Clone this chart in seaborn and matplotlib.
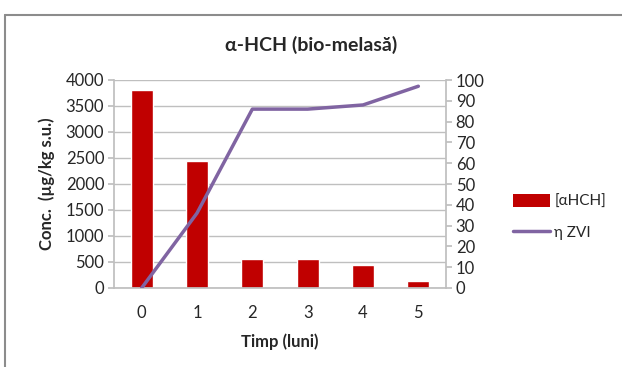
import numpy as np
import pandas as pd
import seaborn as sns
import matplotlib.pyplot as plt
from matplotlib.lines import Line2D
from matplotlib.patches import Patch

# Data
months = [0, 1, 2, 3, 4, 5]
conc_hch = [3800, 2440, 550, 550, 440, 130]   # left axis, µg/kg s.u.
eta_zvi = [0, 36, 86, 86, 88, 97]              # right axis, %

df = pd.DataFrame({'luna': months, 'conc': conc_hch, 'eta': eta_zvi})

sns.set_theme(style='white')
plt.rcParams['font.family'] = ['Lato', 'DejaVu Sans']

bar_color = '#C00000'
line_color = '#8064A2'
grid_color = '#BFBFBF'
text_color = '#262626'

fig = plt.figure(figsize=(6.22, 3.67), dpi=100)
W, H = 622, 367
# plot area in pixels: x 114-446, y 80-288
ax = fig.add_axes([114 / W, 1 - 288 / H, (446 - 114) / W, (288 - 80) / H])

sns.barplot(data=df, x='luna', y='conc', color=bar_color, width=0.4,
            saturation=1, ax=ax)
ax.set_ylim(0, 4000)
ax.set_yticks(np.arange(0, 4001, 500))
ax.set_xlim(-0.5, 5.5)
ax.yaxis.grid(True, color=grid_color, lw=1)
ax.set_axisbelow(True)
for s in ['top', 'right']:
    ax.spines[s].set_visible(False)
for s in ['left', 'bottom']:
    ax.spines[s].set_color(grid_color)
ax.tick_params(axis='y', labelsize=12, colors=text_color, length=4,
               color=grid_color, left=True, pad=3)
ax.tick_params(axis='x', labelsize=12, colors=text_color, length=0, pad=12)
ax.set_xlabel('Timp (luni)', fontsize=12, fontweight='bold', color=text_color,
              labelpad=9)
ax.set_ylabel('Conc.  (µg/kg s.u.)', fontsize=12, fontweight='bold',
              color=text_color, labelpad=8)

ax2 = ax.twinx()
sns.lineplot(data=df, x='luna', y='eta', color=line_color, lw=2.5, ax=ax2)
ax2.set_ylim(0, 100)
ax2.set_yticks(np.arange(0, 101, 10))
ax2.set_xlim(-0.5, 5.5)
ax2.set_ylabel('')
for s in ['top', 'left', 'bottom']:
    ax2.spines[s].set_visible(False)
ax2.spines['right'].set_color(grid_color)
ax2.tick_params(axis='y', labelsize=12, colors=text_color, length=4,
                color=grid_color, right=True, pad=3)

fig.text(311 / W, 1 - 45 / H, 'α-HCH (bio-melasă)', ha='center', va='center',
         fontsize=14, fontweight='bold', color=text_color)

handles = [Patch(facecolor=bar_color, edgecolor='none'),
           Line2D([0], [0], color=line_color, lw=2.5)]
fig.legend(handles, ['[αHCH]', 'η ZVI'], loc='center left',
           bbox_to_anchor=(513 / W, 1 - 217 / H), frameon=False, fontsize=11,
           borderpad=0, borderaxespad=0,
           handlelength=2.4, handleheight=0.9, handletextpad=0.3,
           labelspacing=1.1, labelcolor=text_color)

# outer frame of the chart object
fig.add_artist(Line2D([5 / W, 5 / W], [0, 1 - 15 / H], color='#8C8C8C', lw=1.5,
                      transform=fig.transFigure))
fig.add_artist(Line2D([5 / W, 1], [1 - 15 / H, 1 - 15 / H], color='#8C8C8C',
                      lw=1.5, transform=fig.transFigure))

fig.savefig('out.png', dpi=100)
